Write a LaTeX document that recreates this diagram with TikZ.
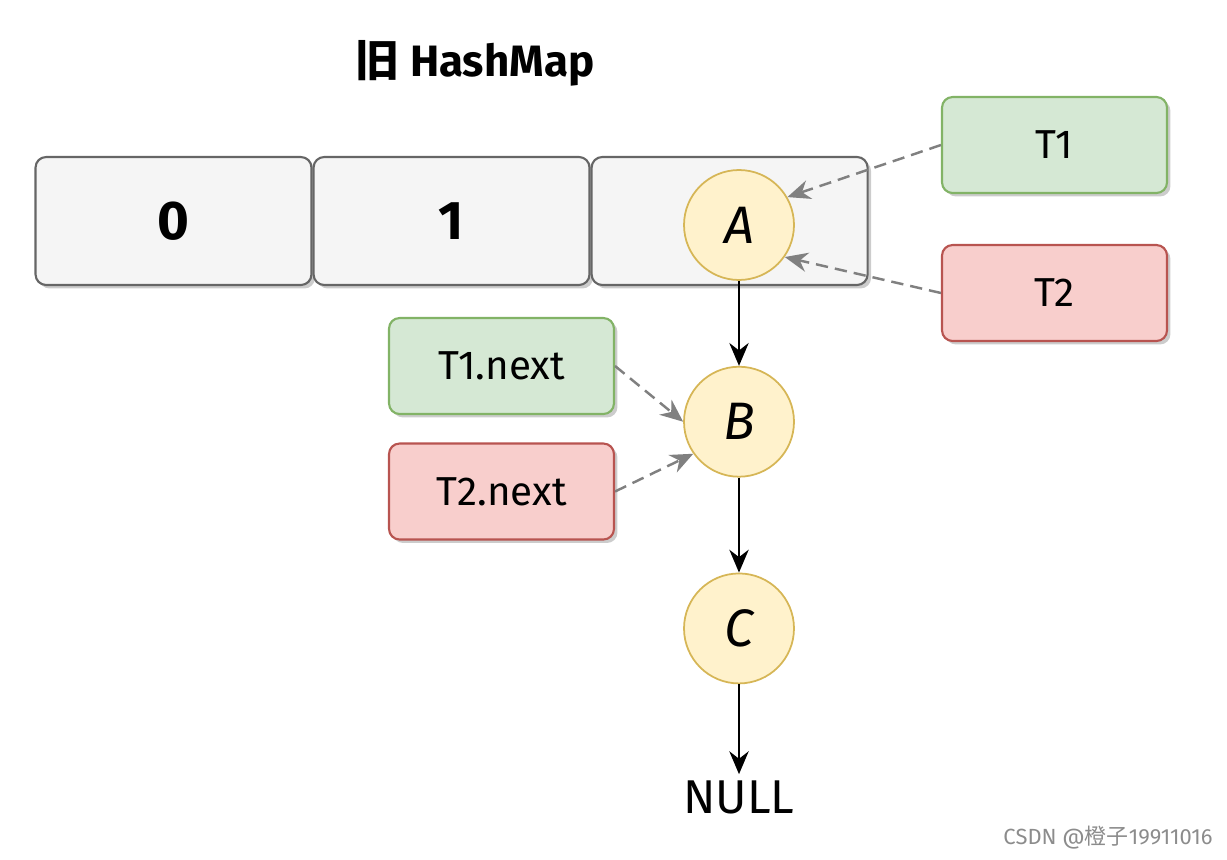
\documentclass[tikz,border=0pt]{standalone}
\usepackage{fontspec}
\setmainfont{Fira Sans}
\newfontfamily\cjk{Noto Sans CJK SC}
\usetikzlibrary{arrows.meta, positioning, shadows}

\definecolor{cellfill}{HTML}{F5F5F5}
\definecolor{celldraw}{HTML}{666666}
\definecolor{nodefill}{HTML}{FFF2CC}
\definecolor{nodedraw}{HTML}{D6B656}
\definecolor{greenfill}{HTML}{D5E8D4}
\definecolor{greendraw}{HTML}{82B366}
\definecolor{redfill}{HTML}{F8CECC}
\definecolor{reddraw}{HTML}{B85450}

\begin{document}
\begin{tikzpicture}[
    x=0.02cm, y=-0.02cm,
    shadow_style/.style={drop shadow={shadow xshift=0.07cm, shadow yshift=-0.07cm, fill=black!40, opacity=0.5}},
    cell_style/.style={draw=celldraw, fill=cellfill, line width=1.2pt, rounded corners=6pt, shadow_style,
        minimum width=5.52cm, minimum height=2.56cm, inner sep=0pt, font=\fontsize{31}{36}\selectfont\bfseries},
    list_node/.style={circle, draw=nodedraw, fill=nodefill, line width=1pt, minimum size=2.2cm, inner sep=0pt,
        font=\fontsize{30}{34}\selectfont\itshape},
    tag_style/.style={line width=1.2pt, rounded corners=6pt, shadow_style, minimum width=4.5cm, minimum height=1.92cm,
        inner sep=0pt, font=\fontsize{23}{27}\selectfont},
    green_tag/.style={tag_style, draw=greendraw, fill=greenfill},
    red_tag/.style={tag_style, draw=reddraw, fill=redfill},
    next_arrow/.style={-{Stealth[length=13pt, width=11pt]}, line width=1.3pt, black},
    ref_arrow/.style={-{Stealth[length=13pt, width=11pt]}, dash pattern=on 7pt off 4pt, line width=1.4pt, black!50}
]
\useasboundingbox (0,0) rectangle (1227,859);

% title
\node[font=\fontsize{25}{30}\selectfont\bfseries] (title) at (475,63) {{\cjk 旧} HashMap};

% bucket array
\node[cell_style] (cell0) at (173.5,221) {0};
\node[cell_style, right=0pt of cell0] (cell1) {1};
\node[cell_style, right=0pt of cell1] (cell2) {};

% linked list in bucket 2
\node[list_node] (A) at (739,225) {A};
\node[list_node, below=1.7cm of A] (B) {B};
\node[list_node, below=1.9cm of B] (C) {C};
\node[font=\fontsize{27}{31}\selectfont] (null) at (739,797) {NULL};

\draw[next_arrow] (A) -- (B);
\draw[next_arrow] (B) -- (C);
\draw[next_arrow] (C) -- (null);

% thread pointers
\node[green_tag] (t1) at (1054.5,145) {T1};
\node[red_tag] (t2) at (1054.5,293) {T2};
\node[green_tag] (t1next) at (501.5,366) {T1.next};
\node[red_tag] (t2next) at (501.5,491.5) {T2.next};

\draw[ref_arrow] (t1.west) -- (A.30);
\draw[ref_arrow] (t2.west) -- (A.-35);
\draw[ref_arrow] (t1next.east) -- (B.180);
\draw[ref_arrow] (t2next.east) -- (B.-145);

% watermark
\node[font=\fontsize{12.5}{14}\selectfont, text=black!45] (mark) at (1108,838) {CSDN @{\cjk 橙子}19911016};
\end{tikzpicture}
\end{document}
